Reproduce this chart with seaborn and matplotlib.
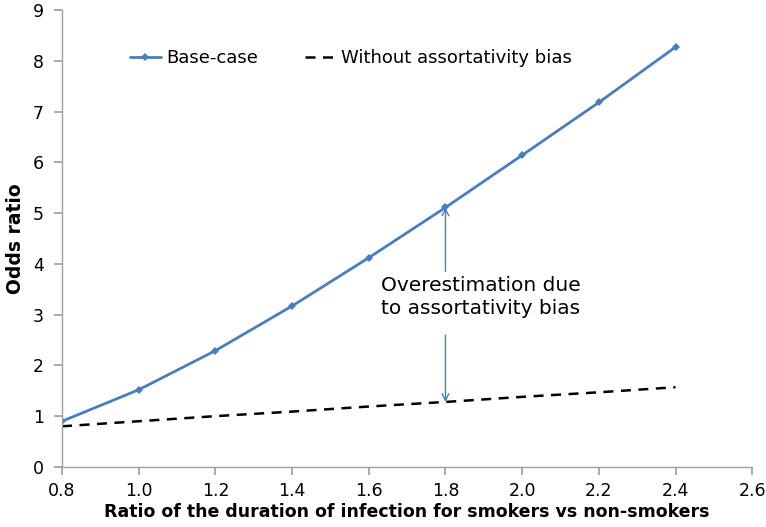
"""Odds ratio vs ratio of infection duration, with and without assortativity bias"""

import pandas as pd
import matplotlib
matplotlib.use("Agg")
import matplotlib.pyplot as plt
import seaborn as sns

# Data
duration_ratio = [0.8, 1.0, 1.2, 1.4, 1.6, 1.8, 2.0, 2.2, 2.4]
base_case = [0.90, 1.52, 2.29, 3.17, 4.12, 5.11, 6.14, 7.18, 8.27]
no_bias = [0.80, 0.90, 1.00, 1.09, 1.19, 1.28, 1.38, 1.47, 1.57]
x_ticks = [0.8, 1.0, 1.2, 1.4, 1.6, 1.8, 2.0, 2.2, 2.4, 2.6]
y_ticks = [0, 1, 2, 3, 4, 5, 6, 7, 8, 9]

df = pd.DataFrame({"ratio": duration_ratio, "base": base_case, "nobias": no_bias})

sns.set_theme(style="white")
plt.rcParams["font.family"] = ["DejaVu Sans"]
plt.rcParams["text.color"] = "black"
plt.rcParams["axes.labelcolor"] = "black"

fig = plt.figure(figsize=(7.66, 5.27), dpi=100)
ax = fig.add_axes([0.081, 0.114, 0.901, 0.867])

blue = "#4a7ebb"
sns.lineplot(data=df, x="ratio", y="base", ax=ax, color=blue, lw=2,
             marker="D", markersize=4, markeredgewidth=0, label="Base-case")
sns.lineplot(data=df, x="ratio", y="nobias", ax=ax, color="black", lw=1.8,
             label="Without assortativity bias")
ax.lines[1].set_linestyle((0, (4, 3)))

ax.set_xlim(0.8, 2.6)
ax.set_ylim(0, 9)
ax.set_xticks(x_ticks)
ax.set_xticklabels([f"{t:.1f}" for t in x_ticks])
ax.set_yticks(y_ticks)

for side in ["top", "right"]:
    ax.spines[side].set_visible(False)
for side in ["left", "bottom"]:
    ax.spines[side].set_color("#a0a0a0")
    ax.spines[side].set_linewidth(1)
ax.tick_params(axis="both", direction="out", length=6, color="#a0a0a0",
               labelsize=12.5, labelcolor="black", left=True, bottom=True)
ax.tick_params(axis="x", pad=5)
ax.tick_params(axis="y", pad=7)

ax.set_xlabel("Ratio of the duration of infection for smokers vs non-smokers",
              fontsize=12.5, fontweight="bold", labelpad=2)
ax.set_ylabel("Odds ratio", fontsize=13.5, fontweight="bold", labelpad=6)

# Annotation with two arrows
i = duration_ratio.index(1.8)
arrow = dict(arrowstyle="->", color=blue, lw=1, shrinkA=0, shrinkB=0,
             mutation_scale=12)
ax.annotate("", xy=(1.8, base_case[i]), xytext=(1.8, 3.85), arrowprops=arrow)
ax.annotate("", xy=(1.8, no_bias[i]), xytext=(1.8, 2.6), arrowprops=arrow)
ax.text(1.893, 3.35, "Overestimation due\nto assortativity bias", ha="center",
        va="center", multialignment="left", fontsize=14.5, linespacing=1.3)

ax.legend(loc="upper left", bbox_to_anchor=(0.075, 0.95), ncol=2, frameon=False,
          fontsize=13, handlelength=1.7, columnspacing=2.6, handletextpad=0.3)

plt.savefig("out.png", dpi=100)
